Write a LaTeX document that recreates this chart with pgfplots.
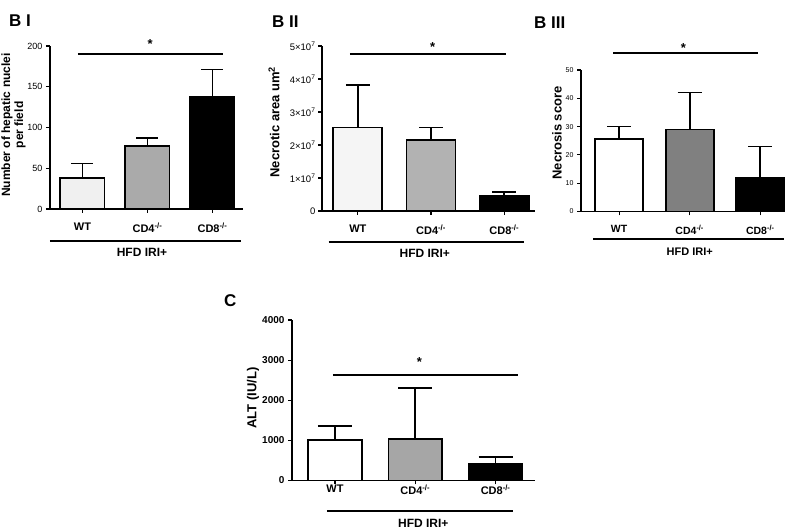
\documentclass[border=0pt]{standalone}
\usepackage{pgfplots}
\pgfplotsset{compat=1.18}
\usepackage{fontspec}
\setmainfont{Liberation Sans}
\definecolor{wtI}{HTML}{F0F0F0}
\definecolor{cdI}{HTML}{AAAAAA}
\definecolor{wtII}{HTML}{F5F5F5}
\definecolor{cdII}{HTML}{B2B2B2}
\definecolor{cdIII}{HTML}{808080}
\definecolor{cdC}{HTML}{A6A6A6}
\pgfplotsset{
  gp/.style={
    scale only axis,
    axis x line*=bottom, axis y line*=left,
    axis line style={line width=1.8pt, black},
    ymin=0,
    xtick={0,1,2},
    xticklabels={WT, CD4\textsuperscript{-/-}, CD8\textsuperscript{-/-}},
    tick align=outside,
    major tick length=4pt,
    tick style={line width=1.2pt, black},
    clip=false,
    /pgf/number format/assume math mode=true,
    /pgf/number format/1000 sep={},
    scaled y ticks=false,
    ybar, bar shift=0pt,
    every axis plot/.append style={draw=black, line width=1.8pt},
  },
  eb/.style={error bars/.cd, y dir=plus, y explicit,
    error bar style={line width=1.7pt, black},
    error mark options={rotate=90, line width=1.7pt, black, mark size=#1}},
}
\begin{document}
\begin{tikzpicture}
\path[use as bounding box] (0pt,0pt) rectangle (800pt,529pt);
% ---------------- B I
\begin{axis}[gp, at={(50pt,320pt)}, anchor=south west, width=193pt, height=163pt,
  xmin=-0.5, xmax=2.47, ymax=200, ytick={0,50,100,150,200}, bar width=0.68,
  x tick label style={font=\bfseries\fontsize{11}{12}\selectfont, yshift=-6pt},
  y tick label style={font=\fontsize{9}{10}\selectfont}]
\addplot[fill=wtI, eb=11pt] coordinates {(0,38) +- (0,18)};
\addplot[fill=cdI, eb=11pt] coordinates {(1,77) +- (0,10)};
\addplot[fill=black, eb=11pt] coordinates {(2,137) +- (0,34)};
\draw[line width=1.8pt] (axis cs:-0.07,190.2) -- (axis cs:2.16,190.2);
\node[font=\bfseries\fontsize{13}{13}\selectfont] at (axis cs:1.04,202) {*};
\draw[line width=1.8pt] (axis cs:-0.5,-39.3) -- (axis cs:2.44,-39.3);
\node[font=\bfseries\fontsize{12}{12}\selectfont] at (axis cs:0.915,-52.8) {HFD IRI+};
\end{axis}
% ---------------- B II
\begin{axis}[gp, at={(322pt,318pt)}, anchor=south west, width=213pt, height=165pt,
  xmin=-0.49, xmax=2.42, ymax=5, ytick={0,1,2,3,4,5},
  yticklabels={0,1×10\textsuperscript{7},2×10\textsuperscript{7},3×10\textsuperscript{7},4×10\textsuperscript{7},5×10\textsuperscript{7}},
  bar width=0.67,
  x tick label style={font=\bfseries\fontsize{11}{12}\selectfont, yshift=-6pt},
  y tick label style={font=\fontsize{9.5}{10}\selectfont, xshift=1pt}]
\addplot[fill=wtII, eb=12pt] coordinates {(0,2.53) +- (0,1.28)};
\addplot[fill=cdII, eb=12pt] coordinates {(1,2.16) +- (0,0.37)};
\addplot[fill=black, eb=12pt] coordinates {(2,0.46) +- (0,0.12)};
\draw[line width=1.8pt] (axis cs:-0.11,4.76) -- (axis cs:2.03,4.76);
\node[font=\bfseries\fontsize{13}{13}\selectfont] at (axis cs:1.02,4.98) {*};
\draw[line width=1.8pt] (axis cs:-0.4,-0.94) -- (axis cs:2.27,-0.94);
\node[font=\bfseries\fontsize{12}{12}\selectfont] at (axis cs:0.915,-1.27) {HFD IRI+};
\end{axis}
% ---------------- B III
\begin{axis}[gp, at={(581pt,317.5pt)}, anchor=south west, width=204pt, height=141.5pt,
  xmin=-0.54, xmax=2.35, ymax=50, ytick={0,10,20,30,40,50}, bar width=0.68,
  x tick label style={font=\bfseries\fontsize{10.5}{11}\selectfont, yshift=-6pt},
  y tick label style={font=\fontsize{7}{8}\selectfont}]
\addplot[fill=white, eb=12pt] coordinates {(0,25.5) +- (0,4.5)};
\addplot[fill=cdIII, eb=12pt] coordinates {(1,29) +- (0,13)};
\addplot[fill=black, eb=12pt] coordinates {(2,12) +- (0,11)};
\draw[line width=1.8pt] (axis cs:-0.085,56) -- (axis cs:1.97,56);
\node[font=\bfseries\fontsize{13}{13}\selectfont] at (axis cs:0.91,57.8) {*};
\draw[line width=1.8pt] (axis cs:-0.37,-9.7) -- (axis cs:2.33,-9.7);
\node[font=\bfseries\fontsize{11}{12}\selectfont] at (axis cs:1.0,-14.3) {HFD IRI+};
\end{axis}
% ---------------- C
\begin{axis}[gp, at={(292pt,48.5pt)}, anchor=south west, width=243pt, height=160.5pt,
  xmin=-0.535, xmax=2.49, ymax=4000, ytick={0,1000,2000,3000,4000}, bar width=0.67,
  x tick label style={font=\bfseries\fontsize{11}{12}\selectfont, yshift=3pt},
  y tick label style={font=\bfseries\fontsize{10}{11}\selectfont}]
\addplot[fill=white, eb=17pt] coordinates {(0,1000) +- (0,350)};
\addplot[fill=cdC, eb=17pt] coordinates {(1,1030) +- (0,1280)};
\addplot[fill=black, eb=17pt] coordinates {(2,420) +- (0,160)};
\draw[line width=1.8pt] (axis cs:-0.025,2630) -- (axis cs:2.28,2630);
\node[font=\bfseries\fontsize{13}{13}\selectfont] at (axis cs:1.05,2955) {*};
\draw[line width=1.8pt] (axis cs:-0.1,-760) -- (axis cs:2.22,-760);
\node[font=\bfseries\fontsize{12}{12}\selectfont] at (axis cs:1.1,-1060) {HFD IRI+};
\end{axis}
% ---------------- labels and titles
\node[rotate=90, font=\bfseries\fontsize{12}{13}\selectfont, align=center] at (13.5pt,404pt) {Number of hepatic nuclei\\per field};
\node[rotate=90, font=\bfseries\fontsize{13}{14}\selectfont] at (274pt,407pt) {Necrotic area um\textsuperscript{2}};
\node[rotate=90, font=\bfseries\fontsize{13}{14}\selectfont] at (557pt,396pt) {Necrosis score};
\node[rotate=90, font=\bfseries\fontsize{13}{14}\selectfont] at (253pt,131pt) {ALT (IU/L)};
\node[anchor=west, font=\bfseries\fontsize{17}{18}\selectfont, inner sep=0pt] at (9pt,508pt) {B I};
\node[anchor=west, font=\bfseries\fontsize{17}{18}\selectfont, inner sep=0pt] at (272pt,507pt) {B II};
\node[anchor=west, font=\bfseries\fontsize{17}{18}\selectfont, inner sep=0pt] at (534pt,506pt) {B III};
\node[anchor=west, font=\bfseries\fontsize{17}{18}\selectfont, inner sep=0pt] at (224pt,228pt) {C};
\end{tikzpicture}
\end{document}
